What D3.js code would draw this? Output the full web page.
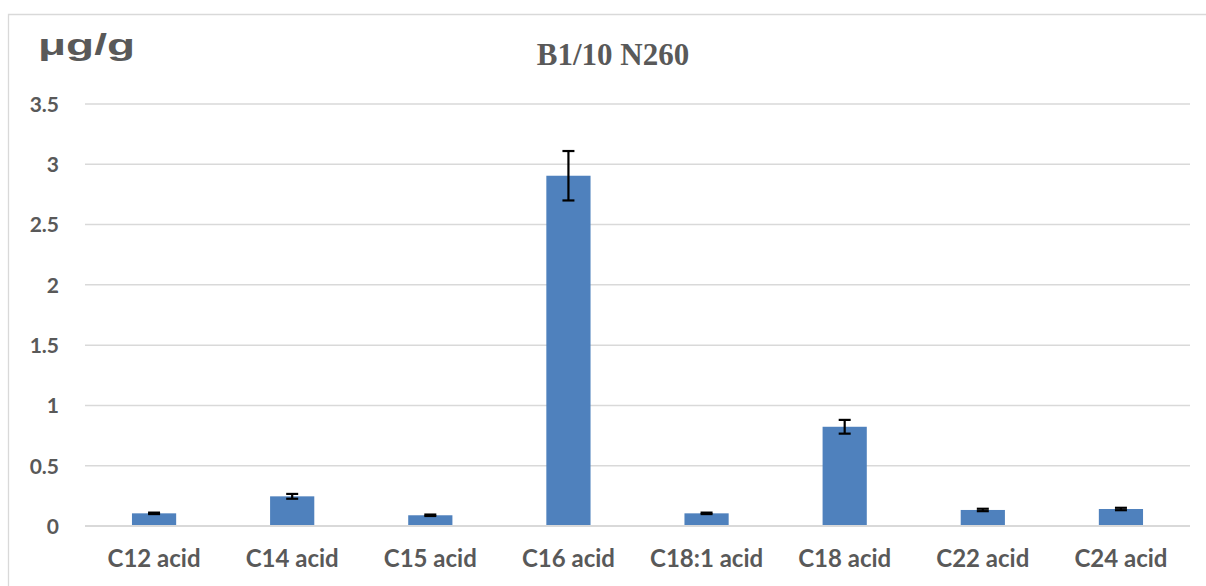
<!DOCTYPE html>
<html><head><meta charset="utf-8">
<script src="https://cdn.jsdelivr.net/npm/d3@7/dist/d3.min.js"></script>
<style>body{margin:0;background:#fff}svg{display:block}</style>
</head><body>
<svg id="c" width="1206" height="586"></svg>
<script>
const categories = ["C12 acid","C14 acid","C15 acid","C16 acid","C18:1 acid","C18 acid","C22 acid","C24 acid"];
const values = [0.105, 0.246, 0.089, 2.905, 0.105, 0.823, 0.133, 0.141];
const errors = [0.006, 0.02, 0.006, 0.205, 0.006, 0.057, 0.01, 0.01];
const yTicks = [0, 0.5, 1, 1.5, 2, 2.5, 3, 3.5];
const title = "B1/10 N260";
const unitLabel = "μg/g";

const svg = d3.select("#c");
const m = {l:85, r:1190, t:104, b:526};
const x = d3.scaleBand().domain(categories).range([m.l, m.r]).paddingInner(0.68).paddingOuter(0.34);
const y = d3.scaleLinear().domain([0, 3.5]).range([m.b, m.t]);

// outer frame (left and top)
svg.append("path").attr("d","M8.5,586 V14.5 H1206").attr("fill","none").attr("stroke","#d9d9d9").attr("stroke-width",1.3);

// gridlines
svg.append("g").selectAll("line").data(yTicks.filter(d=>d>0)).join("line")
  .attr("x1",m.l).attr("x2",m.r).attr("y1",d=>y(d)).attr("y2",d=>y(d))
  .attr("stroke","#d9d9d9").attr("stroke-width",1.5);

// y axis labels
const yAxis = d3.axisLeft(y).tickValues(yTicks).tickSize(0).tickPadding(0).tickFormat(d3.format("~g"));
const gy = svg.append("g").attr("transform",`translate(59,0)`).call(yAxis);
gy.select(".domain").remove();
gy.selectAll("text").attr("font-family","Lato, 'Open Sans', sans-serif").attr("font-weight","bold")
  .attr("font-size",21).attr("fill","#595959").attr("dy","0.35em");

// bars
svg.append("g").selectAll("rect").data(values).join("rect")
  .attr("x",(d,i)=>x(categories[i])).attr("width",x.bandwidth())
  .attr("y",d=>y(d)).attr("height",d=>y(0)-y(d)).attr("fill","#4f81bd");

// baseline
svg.append("line").attr("x1",m.l).attr("x2",m.r).attr("y1",y(0)).attr("y2",y(0))
  .attr("stroke","#d9d9d9").attr("stroke-width",2);

// error bars
const eg = svg.append("g").attr("stroke","#000").attr("stroke-width",2.2);
values.forEach((v,i)=>{
  const cx = x(categories[i]) + x.bandwidth()/2;
  const hi = y(v+errors[i]), lo = y(v-errors[i]);
  eg.append("line").attr("x1",cx).attr("x2",cx).attr("y1",hi).attr("y2",lo);
  eg.append("line").attr("x1",cx-6).attr("x2",cx+6).attr("y1",hi).attr("y2",hi);
  eg.append("line").attr("x1",cx-6).attr("x2",cx+6).attr("y1",lo).attr("y2",lo);
});

// x axis labels
const xAxis = d3.axisBottom(x).tickSize(0).tickPadding(0);
const gx = svg.append("g").attr("transform",`translate(0,559)`).call(xAxis);
gx.select(".domain").remove();
gx.selectAll("text").attr("font-family","Lato, 'Open Sans', sans-serif").attr("font-weight","bold")
  .attr("font-size",24).attr("fill","#595959").attr("dy","0.35em");

// title
svg.append("text").attr("x",613).attr("y",65).attr("text-anchor","middle")
  .attr("font-family","'Liberation Serif','Times New Roman',serif").attr("font-weight","bold")
  .attr("font-size",31).attr("fill","#595959").text(title);

// unit label
svg.append("text").attr("x",38).attr("y",55)
  .attr("font-family","'Liberation Sans',Arial,sans-serif").attr("font-weight","bold")
  .attr("font-size",29).attr("fill","#595959")
  .attr("textLength",97).attr("lengthAdjust","spacingAndGlyphs").text(unitLabel);
</script>
</body></html>
